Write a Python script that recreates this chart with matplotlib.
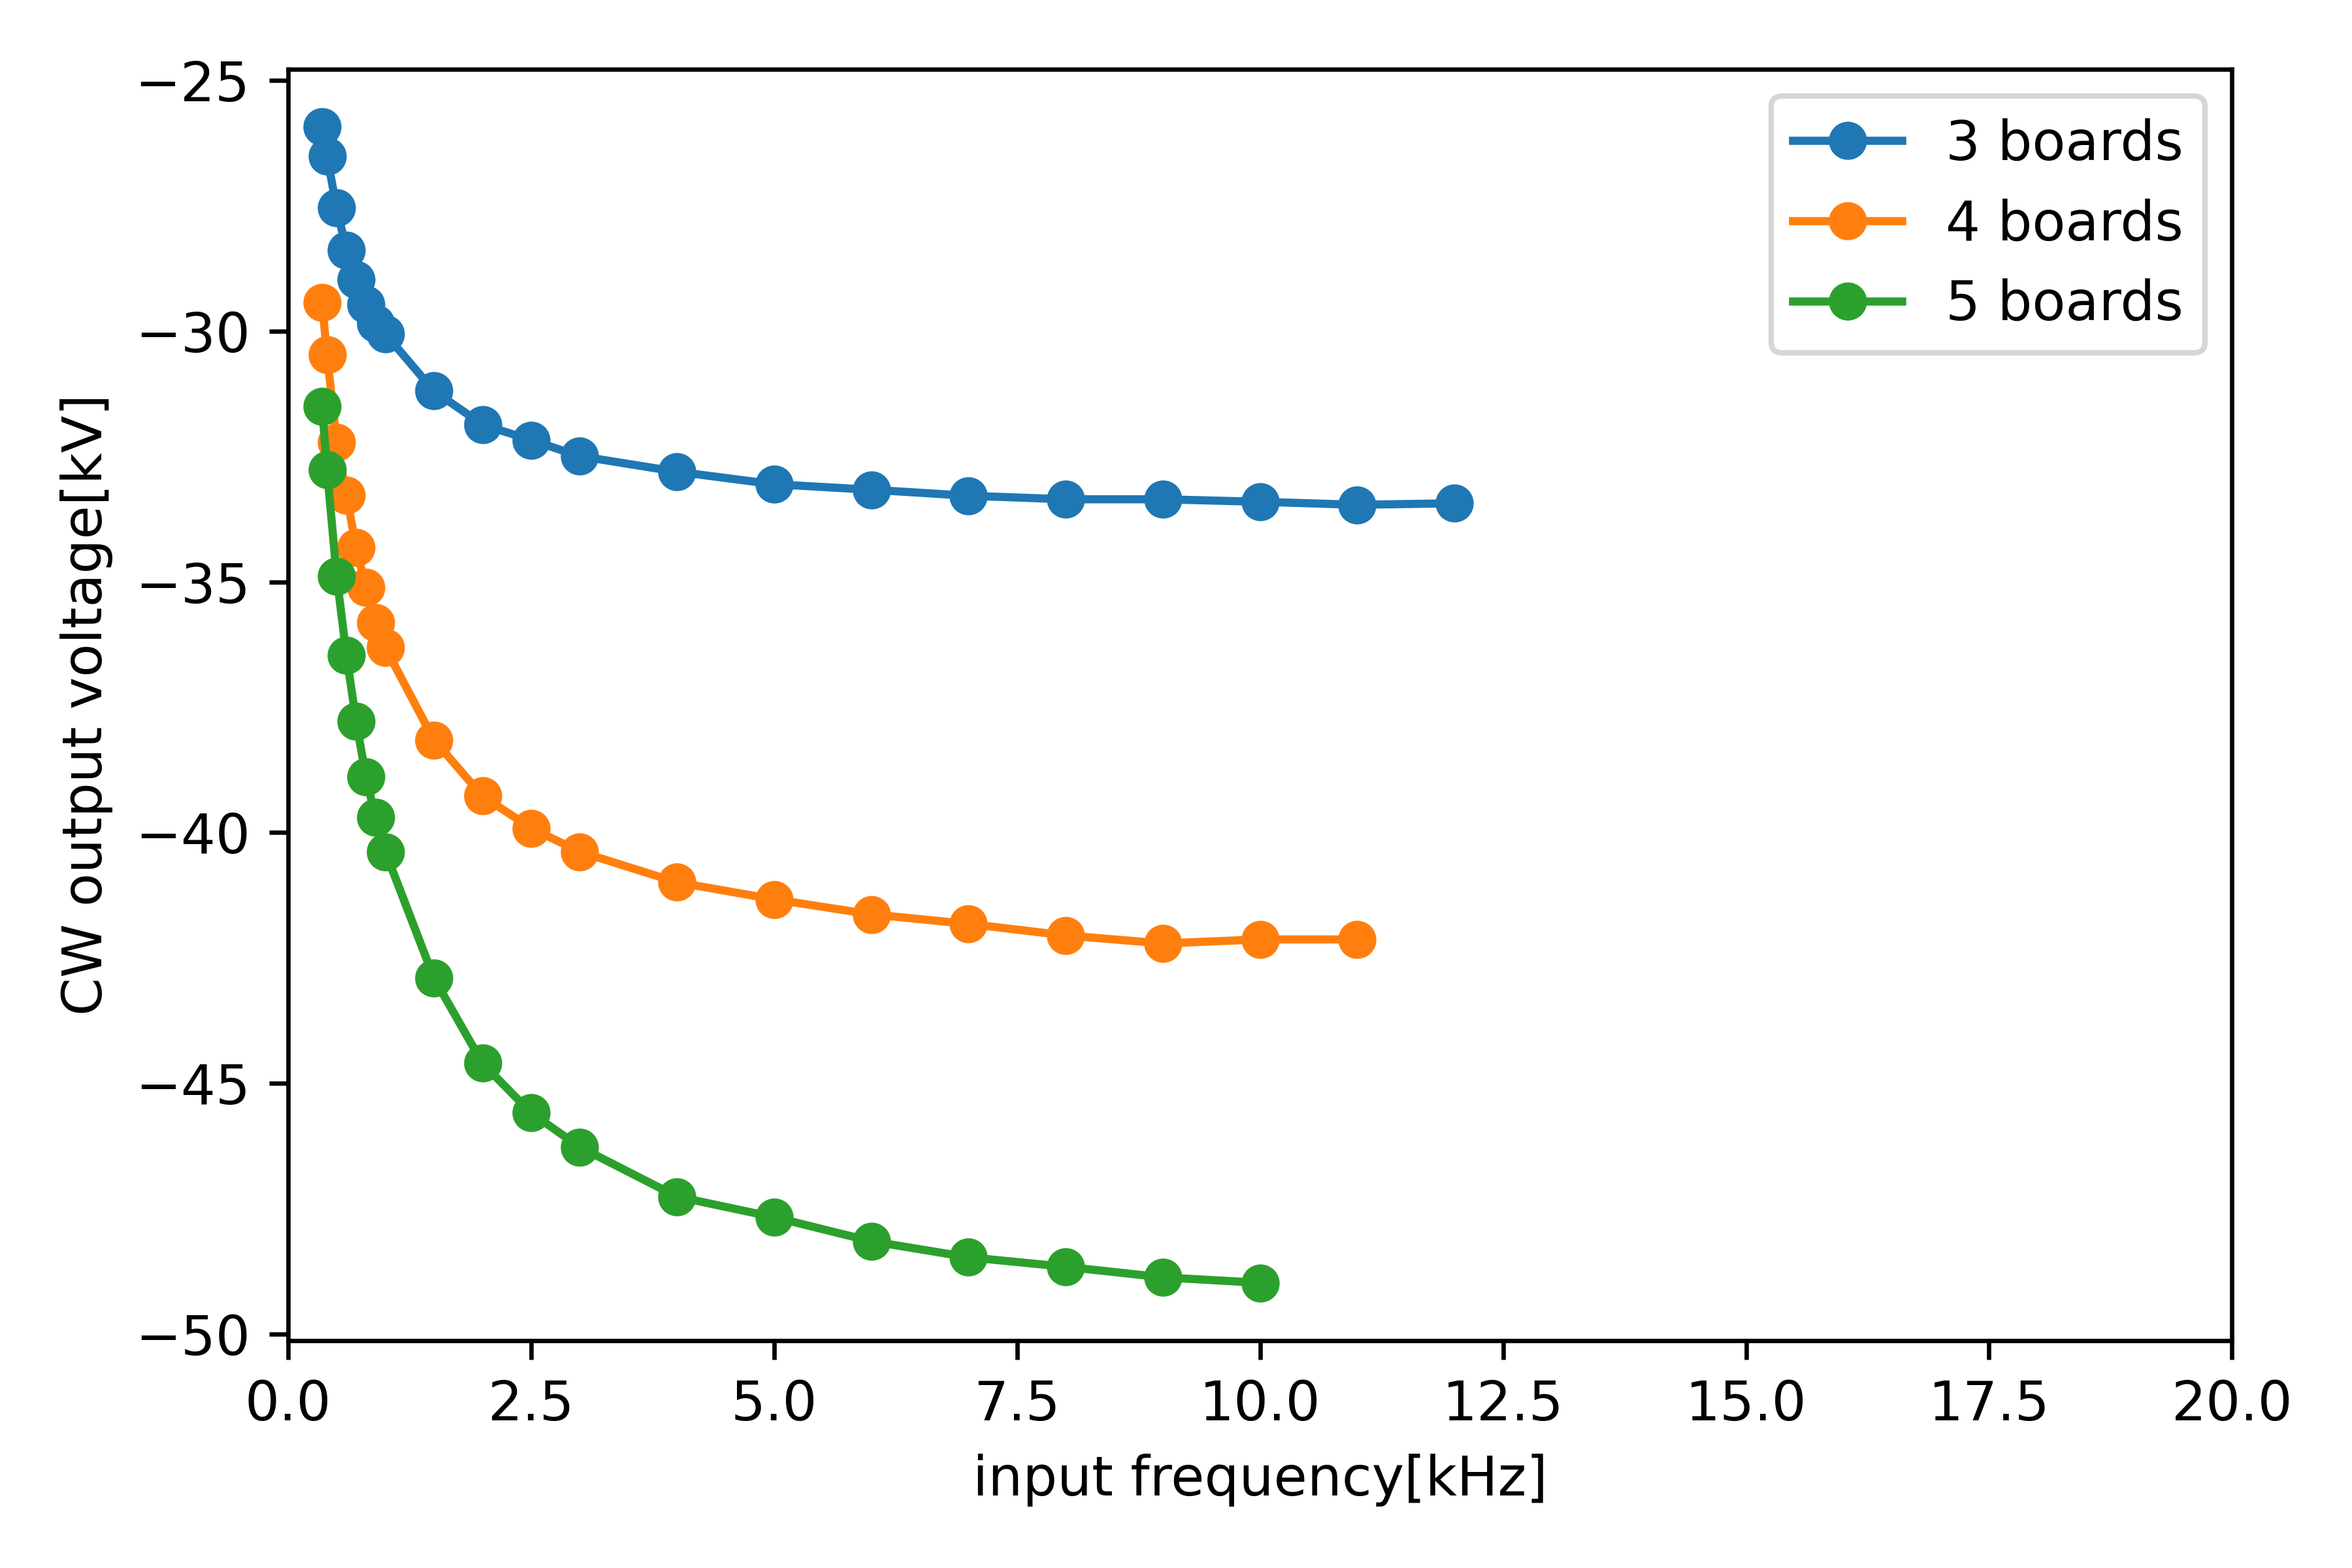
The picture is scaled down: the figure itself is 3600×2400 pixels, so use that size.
import numpy as np
import matplotlib
matplotlib.use('Agg')
import matplotlib.pyplot as plt

#input frequency [kHz]
freq3 = [0.35, 0.4, 0.5, 0.6, 0.7, 0.8, 0.9, 1.0, 1.5, 2, 2.5, 3, 4, 5, 6, 7, 8, 9, 10, 11, 12]
freq4 = [0.35, 0.4, 0.5, 0.6, 0.7, 0.8, 0.9, 1.0, 1.5, 2, 2.5, 3, 4, 5, 6, 7, 8, 9, 10, 11]
freq5 = [0.35, 0.4, 0.5, 0.6, 0.7, 0.8, 0.9, 1.0, 1.5, 2, 2.5, 3, 4, 5, 6, 7, 8, 9, 10]

#CW output voltage [kV]
volt3 = [-25.92, -26.51, -27.54, -28.38, -28.97, -29.46, -29.84, -30.05, -31.19, -31.86, -32.17,
         -32.49, -32.80, -33.05, -33.16, -33.28, -33.35, -33.35, -33.40, -33.46, -33.43]
volt4 = [-29.43, -30.47, -32.21, -33.27, -34.31, -35.11, -35.81, -36.31, -38.15, -39.27, -39.91,
         -40.38, -40.99, -41.33, -41.63, -41.82, -42.05, -42.21, -42.13, -42.13]
volt5 = [-31.50, -32.76, -34.89, -36.46, -37.78, -38.88, -39.70, -40.38, -42.90, -44.60, -45.59,
         -46.27, -47.26, -47.67, -48.15, -48.47, -48.66, -48.87, -48.98]

labels = ['3 boards', '4 boards', '5 boards']

fig = plt.figure(figsize=(6, 4), dpi=600)
plt.subplots_adjust(left=0.1225, right=0.949, top=0.956, bottom=0.145)
plt.plot(freq3, volt3, marker='o', label=labels[0])
plt.plot(freq4, volt4, marker='o', label=labels[1])
plt.plot(freq5, volt5, marker='o', label=labels[2])
plt.xlim(0, 20)
plt.xlabel('input frequency[kHz]')
plt.ylabel('CW output voltage[kV]')
plt.legend()
plt.savefig('out.png', dpi=600)
